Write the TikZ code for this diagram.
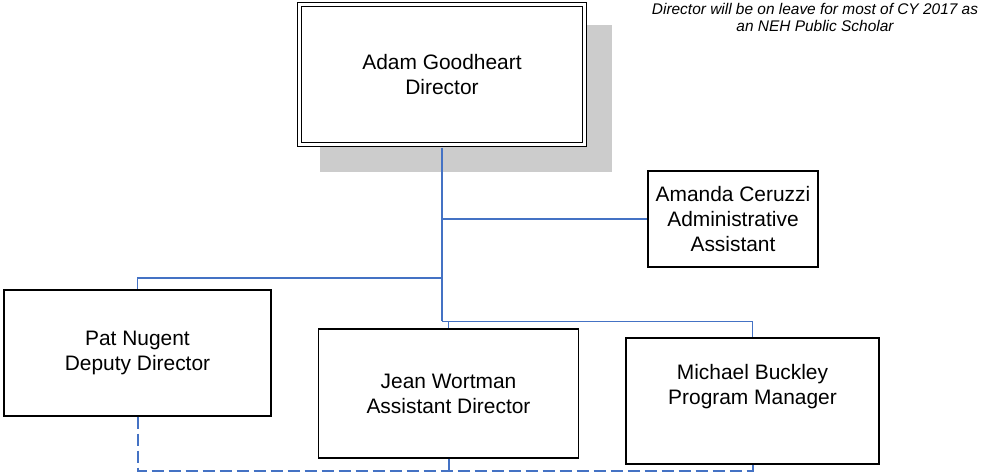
\documentclass[tikz,border=0pt]{standalone}
\usepackage{fontspec}
\setmainfont{Liberation Sans}
\usepackage{tikz}
\usetikzlibrary{backgrounds}
\definecolor{officeBlue}{RGB}{68,114,196}
\definecolor{shadowGray}{RGB}{204,204,204}

\begin{document}
\begin{tikzpicture}[x=1bp, y=-1bp, font=\fontsize{21}{25}\selectfont,
		spine/.style={draw=officeBlue, line width=2.6bp},
		branch/.style={draw=officeBlue, line width=1.5bp},
		dashline/.style={draw=officeBlue, line width=2bp, dash pattern=on 12bp off 5bp}]
	\useasboundingbox (0,0) rectangle (984,474);

	% Director
	\node (dir) at (442,74.5) [draw, double, double distance=2.6bp, line width=1.2bp,
		minimum width=285bp, minimum height=140bp, align=center, fill=white] {Adam Goodheart\\Director};

	% Shadow
	\begin{pgfonlayer}{background}
		\fill [shadowGray] ([shift={(21.5bp,-21.5bp)}]dir.north west) rectangle ([shift={(26.5bp,-26.5bp)}]dir.south east);
	\end{pgfonlayer}

	% Note
	\node (note) at (815,3) [anchor=north, inner sep=0pt, align=center,
		font=\fontsize{15.5}{17}\selectfont\itshape]
		{Director will be on leave for most of CY 2017 as\\an NEH Public Scholar};

	% Staff
	\begin{scope}[every node/.style={draw, line width=1.3bp, align=center, inner sep=0pt}]
		\node (ac) at (733,219) [minimum width=170bp, minimum height=96bp] {Amanda Ceruzzi\\Administrative\\Assistant};
		\node (pn) at (137.5,353) [minimum width=267bp, minimum height=126bp] {Pat Nugent\\Deputy Director};
		\node (jw) at (448.5,393.5) [minimum width=260bp, minimum height=129bp] {Jean Wortman\\Assistant Director};
		\node (mb) at (752.5,401) [minimum width=253bp, minimum height=126bp] {};
	\end{scope}
	\node (mbtext) at (752.5,387) [align=center] {Michael Buckley\\Program Manager};

	% Lines
	\coordinate (hub) at (442,321.5);
	\coordinate (pnturn) at (442,278);
	\coordinate (low) at (0,470.5);
	\path [spine, shorten <=2.5bp] (dir.south) -- (hub);
	\path [branch] (dir.south |- ac.west) -- (ac.west);
	\path [branch] (pnturn) -| (pn.north);
	\path [branch] (hub) -| (jw.north);
	\path [branch] (hub) -| (mb.north);

	% Dashed
	\path [dashline] (pn.south) -- (pn.south |- low) -| (mb.south);
	\path [dashline] (jw.south) -- (jw.south |- low);
\end{tikzpicture}
\end{document}
